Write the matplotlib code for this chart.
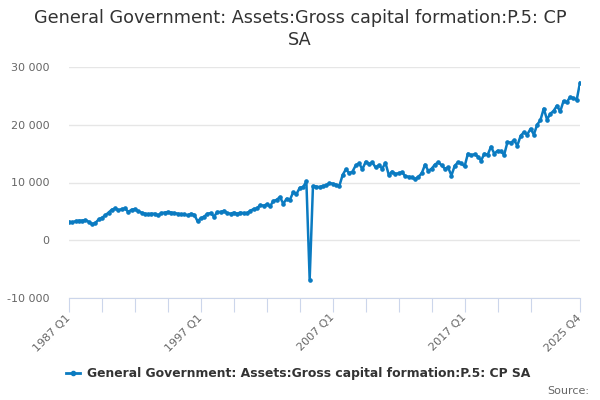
import matplotlib
matplotlib.use("Agg")
import matplotlib.pyplot as plt
from matplotlib.lines import Line2D
import numpy as np

title = "General Government: Assets:Gross capital formation:P.5: CP SA"
series_name = "General Government: Assets:Gross capital formation:P.5: CP SA"
start_year = 1987
values = [
    3200, 3100, 3300, 3400, 3400, 3500, 3200, 2800, 3000, 3600,
    3900, 4300, 4800, 5300, 5500, 5200, 5400, 5500, 4900, 5300,
    5400, 5000, 4800, 4600, 4500, 4600, 4600, 4300, 4700, 4800,
    4900, 4800, 4700, 4600, 4500, 4500, 4300, 4600, 4400, 3300,
    3800, 4100, 4600, 4700, 4100, 4900, 4900, 5100, 4700, 4600,
    4800, 4600, 4800, 4700, 4700, 5100, 5400, 5500, 6100, 6000,
    6200, 5900, 6800, 7000, 7500, 6300, 7200, 7000, 8300, 8000,
    9100, 9200, 10200, -6800, 9400, 9300, 9200, 9400, 9500, 9900,
    9800, 9600, 9400, 11300, 12300, 11600, 11900, 13000, 13300, 12300,
    13600, 13200, 13500, 12600, 13000, 12400, 13400, 11300, 11900, 11500,
    11600, 11800, 11100, 11000, 10900, 10600, 11000, 11600, 13100, 12000,
    12400, 13100, 13500, 13000, 12400, 12600, 11200, 12900, 13500, 13300,
    12800, 15000, 14700, 14900, 14500, 13800, 15000, 14800, 16200, 15000,
    15500, 15400, 14800, 17000, 16900, 17300, 16400, 18100, 18700, 18300,
    19300, 18300, 20000, 20800, 22800, 20900, 21900, 22400, 23300, 22300,
    24100, 23900, 24800, 24600, 24300, 27300,
]
labels = [f"{start_year + i // 4} Q{i % 4 + 1}" for i in range(len(values))]
y_ticks = [-10000, 0, 10000, 20000, 30000]

line_color = "#0b7bc1"
fig = plt.figure(figsize=(6, 4), dpi=100)
ax = fig.add_axes([69/600, 1-298/400, (580-69)/600, (298-67)/400])

for s in ["top", "right", "left"]:
    ax.spines[s].set_visible(False)
ax.spines["bottom"].set_color("#ccd6eb")

x = np.arange(len(values))
ax.plot(x, values, color=line_color, lw=1.8, marker="o", ms=2.3, zorder=3)

ax.set_xlim(0, len(values) - 1)
ax.set_ylim(-10000, 30000)
ax.tick_params(axis="y", length=0, labelsize=8, labelcolor="#666666", pad=14)
ax.tick_params(axis="x", length=10, color="#ccd6eb", labelsize=8,
               labelcolor="#666666", pad=3)
ax.set_yticks(y_ticks)
ax.set_yticklabels([f"{v:,}".replace(",", " ") for v in y_ticks])
ax.yaxis.grid(True, color="#e6e6e6", lw=1)
ax.set_axisbelow(True)

major = list(range(0, 150, 10)) + [len(values) - 1]
ax.set_xticks(major)
lab_idx = [0, 40, 80, 120, len(values) - 1]
ax.set_xticklabels([labels[i] if i in lab_idx else "" for i in major],
                   rotation=45, ha="right", va="center", rotation_mode="anchor")

fig.text(0.5, 1 - 18/400, "General Government: Assets:Gross capital formation:P.5: CP",
         ha="center", va="center", fontsize=12.7, color="#333333")
fig.text(0.5, 1 - 40/400, "SA", ha="center", va="center", fontsize=12.7, color="#333333")

# legend
ly = 1 - 373/400
fig.add_artist(Line2D([66/600, 80/600], [ly, ly], color=line_color, lw=2,
                      transform=fig.transFigure))
fig.add_artist(Line2D([73/600], [ly], color=line_color, marker="o", ms=3,
                      transform=fig.transFigure))
fig.text(87/600, ly, series_name, ha="left", va="center", fontsize=8.9,
         fontweight="bold", color="#333333")
fig.text(589/600, 1 - 391/400, "Source:", ha="right", va="center",
         fontsize=8, color="#666666")

fig.savefig("out.png", dpi=100)
